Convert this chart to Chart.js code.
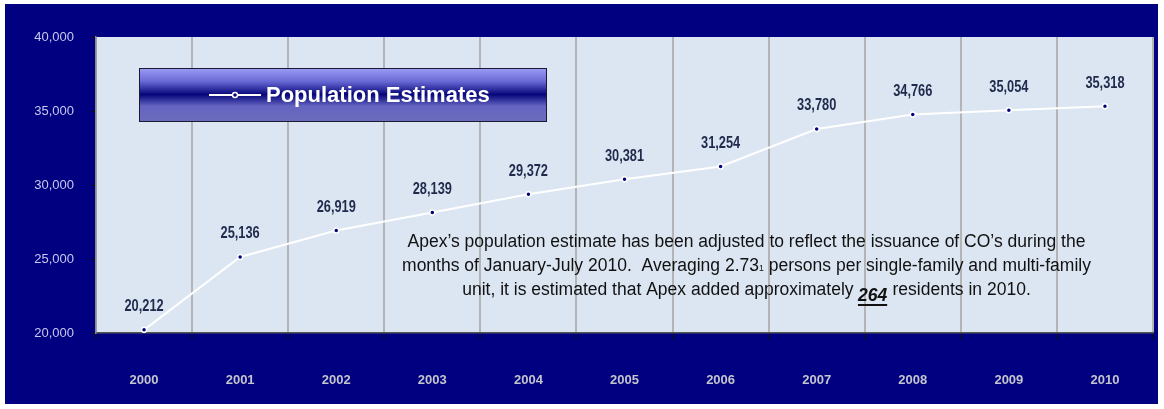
<!DOCTYPE html>
<html lang="en">
<head>
  <meta charset="UTF-8" />
  <title>Population Estimates</title>
  <script src="https://cdn.jsdelivr.net/npm/chart.js@4"></script>
  <style>
    html, body { margin: 0; padding: 0; background: #fff; }
    #wrap { width: 1164px; height: 409px; }
  </style>
</head>
<body>
  <div id="wrap"><canvas id="chart" width="1164" height="409"></canvas></div>

  <script>
    const years = ['2000', '2001', '2002', '2003', '2004', '2005', '2006', '2007', '2008', '2009', '2010'];
    const population = [20212, 25136, 26919, 28139, 29372, 30381, 31254, 33780, 34766, 35054, 35318];
    const yTicks = [20000, 25000, 30000, 35000, 40000];
    const seriesName = 'Population Estimates';
    const noteLines = [
      ['Apex\u2019s population estimate has been adjusted to reflect the issuance of CO\u2019s during the'],
      ['months of January-July 2010.  Averaging 2.73', { sup: '1' }, ' persons per single-family and multi-family'],
      ['unit, it is estimated that Apex added approximately ', { em: '264' }, ' residents in 2010.']
    ];

    const sans = '"Liberation Sans", Arial, sans-serif';
    const navy = '#000080';

    // draws text squeezed sideways, to look like Arial Narrow
    function narrowText(ctx, text, x, y, squeeze) {
      ctx.save();
      ctx.translate(x, y);
      ctx.scale(squeeze, 1);
      ctx.fillText(text, 0, 0);
      ctx.restore();
    }

    // background, plot fill, legend box, note text, value labels
    const decor = {
      id: 'decor',
      beforeDraw(chart) {
        const { ctx, chartArea: a } = chart;
        ctx.save();
        ctx.fillStyle = '#ffffff';
        ctx.fillRect(0, 0, chart.width, chart.height);
        ctx.fillStyle = navy;
        ctx.fillRect(5, 4, 1153, 400);
        ctx.fillStyle = '#dce6f2';
        ctx.fillRect(a.left, a.top, a.right - a.left, a.bottom - a.top);
        ctx.restore();
      },
      afterDatasetsDraw(chart) {
        const { ctx } = chart;
        const meta = chart.getDatasetMeta(0);
        ctx.save();
        // value labels
        ctx.font = 'bold 16px ' + sans;
        ctx.fillStyle = '#1f2a4c';
        ctx.textAlign = 'center';
        ctx.textBaseline = 'middle';
        meta.data.forEach((pt, i) => {
          narrowText(ctx, population[i].toLocaleString('en-US'), pt.x, pt.y - 23, 0.8);
        });

        // legend box
        const lx = 139, ly = 68, lw = 407, lh = 53;
        const g = ctx.createLinearGradient(0, ly, 0, ly + lh);
        g.addColorStop(0, '#9c9cf6');
        g.addColorStop(0.25, '#6a6ad6');
        g.addColorStop(0.5, '#06067a');
        g.addColorStop(0.72, '#6464c2');
        g.addColorStop(1, '#6c6cbc');
        ctx.fillStyle = g;
        ctx.fillRect(lx, ly, lw, lh);
        ctx.strokeStyle = '#1a1a30';
        ctx.lineWidth = 1;
        ctx.strokeRect(lx + 0.5, ly + 0.5, lw, lh);
        ctx.strokeStyle = '#ffffff';
        ctx.lineWidth = 2;
        ctx.beginPath();
        ctx.moveTo(209, 95);
        ctx.lineTo(261, 95);
        ctx.stroke();
        ctx.beginPath();
        ctx.arc(235, 95, 2.5, 0, Math.PI * 2);
        ctx.fillStyle = navy;
        ctx.fill();
        ctx.lineWidth = 1.5;
        ctx.stroke();
        ctx.fillStyle = '#ffffff';
        ctx.font = 'bold 22px ' + sans;
        ctx.textAlign = 'left';
        ctx.fillText(seriesName, 266, 96);

        // note
        const cx = 746;
        const squeeze = 0.973;
        const base = 'normal 18px ' + sans;
        const bold = 'italic bold 18px ' + sans;
        const sup = 'normal 9px ' + sans;
        ctx.fillStyle = '#111111';
        ctx.textAlign = 'left';
        ctx.textBaseline = 'alphabetic';
        noteLines.forEach((parts, li) => {
          const y = 253 + li * 24;
          const fontOf = p => typeof p === 'string' ? base : (p.sup ? sup : bold);
          const textOf = p => typeof p === 'string' ? p : (p.sup || p.em);
          let w = 0;
          parts.forEach(p => { ctx.font = fontOf(p); w += ctx.measureText(textOf(p)).width; });
          ctx.save();
          ctx.translate(cx, 0);
          ctx.scale(squeeze, 1);
          let x = -w / 2;
          parts.forEach(p => {
            ctx.font = fontOf(p);
            const t = textOf(p);
            const tw = ctx.measureText(t).width;
            if (p.sup) {
              ctx.fillText(t, x + 0.5, y - 6);
            } else {
              ctx.fillText(t, x, y);
              if (p.em) ctx.fillRect(x, y + 3, tw, 2);
            }
            x += tw;
          });
          ctx.restore();
        });
        ctx.restore();
      }
    };

    new Chart(document.getElementById('chart'), {
      type: 'line',
      data: {
        labels: years,
        datasets: [{
          label: seriesName,
          data: population,
          borderColor: '#ffffff',
          borderWidth: 2,
          pointRadius: 2.5,
          pointBackgroundColor: navy,
          pointBorderColor: '#ffffff',
          pointBorderWidth: 1.5,
          tension: 0
        }]
      },
      options: {
        responsive: false,
        animation: false,
        layout: { padding: { left: 6, right: 11, top: 37, bottom: 5 } },
        plugins: { legend: { display: false }, tooltip: { enabled: false } },
        scales: {
          x: {
            offset: true,
            grid: { offset: true, color: '#b4b4b4', lineWidth: 2, tickColor: '#111111', tickLength: 7, tickWidth: 1 },
            border: { color: '#555555', width: 1.5 },
            ticks: { color: '#c4c4cc', font: { family: 'Liberation Sans, Arial', size: 13, weight: 'bold' }, padding: 33 },
            afterFit: s => { s.height = 71; }
          },
          y: {
            min: 20000,
            max: 40000,
            afterBuildTicks: s => { s.ticks = yTicks.map(v => ({ value: v })); },
            grid: { drawOnChartArea: false, tickColor: '#111111', tickLength: 5, tickWidth: 1 },
            border: { color: '#8a8a8a', width: 1.5 },
            ticks: {
              color: '#c8c8f0',
              font: { family: 'Liberation Sans, Arial', size: 13 },
              padding: 17,
              callback: v => v.toLocaleString('en-US')
            },
            afterFit: s => { s.width = 90; }
          }
        }
      },
      plugins: [decor]
    });
  </script>
</body>
</html>
